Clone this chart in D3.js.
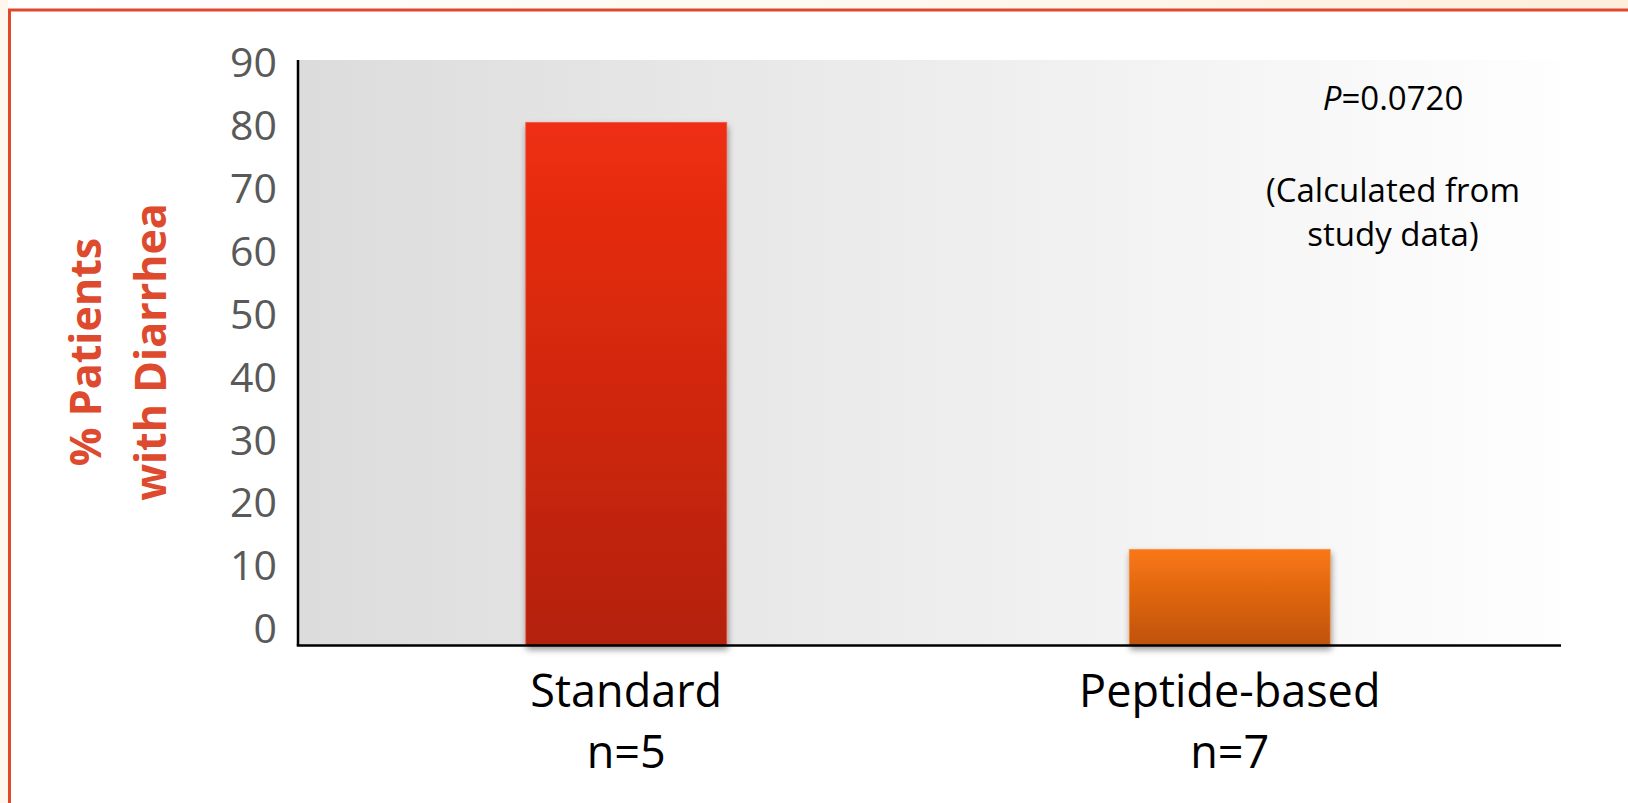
<!DOCTYPE html>
<html>
<head>
<meta charset="utf-8">
<script src="https://cdn.jsdelivr.net/npm/d3@7"></script>
<style>
  html, body { margin: 0; padding: 0; background: #ffffff; }
  svg { display: block; }
</style>
</head>
<body>
<svg id="chart" width="1628" height="803"></svg>
<script>
// Chart data
const categories = ["Standard", "Peptide-based"];
const sampleSizes = ["n=5", "n=7"];
const diarrheaPct = [80, 14.7];
const yTicks = [0, 10, 20, 30, 40, 50, 60, 70, 80, 90];
const yTitleLines = ["% Patients", "with Diarrhea"];
const noteLines = ["(Calculated from", "study data)"];
const pValue = "0.0720";

const W = 1628, H = 803;
const svg = d3.select("#chart");
const defs = svg.append("defs");

// Slide backdrop: faint warm tint outside the framed panel
const topTint = defs.append("linearGradient").attr("id", "topTint")
  .attr("x1", "0").attr("x2", "1").attr("y1", "0").attr("y2", "0");
topTint.append("stop").attr("offset", "0").attr("stop-color", "#ffffff");
topTint.append("stop").attr("offset", "0.6").attr("stop-color", "#fcf8ee");
topTint.append("stop").attr("offset", "1").attr("stop-color", "#fdeedc");
svg.append("rect").attr("x", 0).attr("y", 0).attr("width", W).attr("height", 9)
  .attr("fill", "url(#topTint)");
svg.append("rect").attr("x", 0).attr("y", 0).attr("width", 8).attr("height", H)
  .attr("fill", "#fff6ee");

// Panel frame (runs off the right and bottom edges)
svg.append("path")
  .attr("d", `M9.5,${H + 5} L9.5,10 L${W + 5},10`)
  .attr("fill", "none").attr("stroke", "#e0472d").attr("stroke-width", 3);

// Plot geometry
const plotLeft = 298, plotRight = 1561, plotTop = 60, baseY = 645.5;

const y = d3.scaleLinear().domain([0, 90]).range([baseY, 57]);
// tick labels sit on their own slightly tighter spacing
const yLabel = d3.scaleLinear().domain([0, 90]).range([628, 62]);

const innerPad = 1 - 201 / 603.5;
const x = d3.scaleBand().domain(categories)
  .range([324.5, 1531.5])
  .paddingInner(innerPad)
  .paddingOuter(innerPad / 2);

// Plot area background: light grey fading to white
const bgGrad = defs.append("linearGradient").attr("id", "plotBg")
  .attr("gradientUnits", "userSpaceOnUse")
  .attr("x1", plotLeft).attr("x2", plotRight).attr("y1", 0).attr("y2", 0);
bgGrad.append("stop").attr("offset", "0").attr("stop-color", "#dcdcdc");
bgGrad.append("stop").attr("offset", "1").attr("stop-color", "#fefefe");
svg.append("rect")
  .attr("x", plotLeft).attr("y", plotTop)
  .attr("width", plotRight - plotLeft).attr("height", baseY - plotTop)
  .attr("fill", "url(#plotBg)");

// Bar fills
const barColors = [
  { id: "barStd", top: "#ef2e12", bottom: "#b3210c", edge: "#f0553c" },
  { id: "barPep", top: "#fa7713", bottom: "#bf520e", edge: "#f4913f" }
];
barColors.forEach(c => {
  const g = defs.append("linearGradient").attr("id", c.id)
    .attr("x1", "0").attr("x2", "0").attr("y1", "0").attr("y2", "1");
  g.append("stop").attr("offset", "0").attr("stop-color", c.top);
  g.append("stop").attr("offset", "1").attr("stop-color", c.bottom);
});

const shadow = defs.append("filter").attr("id", "barShadow")
  .attr("x", "-10%").attr("y", "-10%").attr("width", "130%").attr("height", "130%");
shadow.append("feDropShadow")
  .attr("dx", 1).attr("dy", 4).attr("stdDeviation", 3)
  .attr("flood-color", "#000").attr("flood-opacity", 0.4);

svg.append("g").selectAll("rect")
  .data(categories)
  .join("rect")
  .attr("x", d => x(d))
  .attr("y", (d, i) => y(diarrheaPct[i]))
  .attr("width", x.bandwidth())
  .attr("height", (d, i) => y(0) - y(diarrheaPct[i]))
  .attr("fill", (d, i) => `url(#${barColors[i].id})`)
  .attr("stroke", (d, i) => barColors[i].edge)
  .attr("stroke-width", 1)
  .attr("stroke-opacity", 0.7)
  .attr("filter", "url(#barShadow)");

// Axis lines
svg.append("line")
  .attr("x1", plotLeft).attr("x2", plotLeft)
  .attr("y1", plotTop).attr("y2", baseY)
  .attr("stroke", "#000").attr("stroke-width", 2.5);
svg.append("line")
  .attr("x1", plotLeft - 1.25).attr("x2", plotRight)
  .attr("y1", baseY).attr("y2", baseY)
  .attr("stroke", "#000").attr("stroke-width", 2.5);

// Y tick labels
const yAxis = svg.append("g")
  .attr("transform", `translate(${plotLeft},0)`)
  .call(d3.axisLeft(yLabel).tickValues(yTicks).tickSize(0).tickPadding(21));
yAxis.select(".domain").remove();
yAxis.selectAll("text")
  .attr("font-family", "'Open Sans', sans-serif")
  .attr("font-size", 41)
  .attr("fill", "#595959")
  .attr("dy", "0.36em");

// Category labels
const catFont = "'Open Sans', sans-serif";
const catG = svg.append("g");
categories.forEach((c, i) => {
  const cx = x(c) + x.bandwidth() / 2;
  catG.append("text")
    .attr("x", cx).attr("y", 707)
    .attr("text-anchor", "middle")
    .attr("font-family", catFont).attr("font-size", 45)
    .attr("fill", "#000")
    .text(c);
  catG.append("text")
    .attr("x", cx).attr("y", 768)
    .attr("text-anchor", "middle")
    .attr("font-family", catFont).attr("font-size", 45)
    .attr("fill", "#000")
    .text(sampleSizes[i]);
});

// Y axis title (two rotated lines)
const titleG = svg.append("g");
const titleBaselines = [101, 166];
yTitleLines.forEach((t, i) => {
  titleG.append("text")
    .attr("transform", `translate(${titleBaselines[i]},352) rotate(-90)`)
    .attr("text-anchor", "middle")
    .attr("font-family", "'Open Sans', sans-serif")
    .attr("font-weight", 700)
    .attr("font-size", 43)
    .attr("fill", "#dd4a2d")
    .text(t);
});

// Significance note
const noteX = 1393;
const pText = svg.append("text")
  .attr("x", noteX).attr("y", 110)
  .attr("text-anchor", "middle")
  .attr("font-family", "'Open Sans', sans-serif")
  .attr("font-size", 33)
  .attr("fill", "#000");
pText.append("tspan").attr("font-style", "italic").text("P");
pText.append("tspan").text("=" + pValue);

noteLines.forEach((t, i) => {
  svg.append("text")
    .attr("x", noteX).attr("y", 202 + i * 44)
    .attr("text-anchor", "middle")
    .attr("font-family", "'Open Sans', sans-serif")
    .attr("font-size", 33)
    .attr("fill", "#000")
    .text(t);
});
</script>
</body>
</html>
